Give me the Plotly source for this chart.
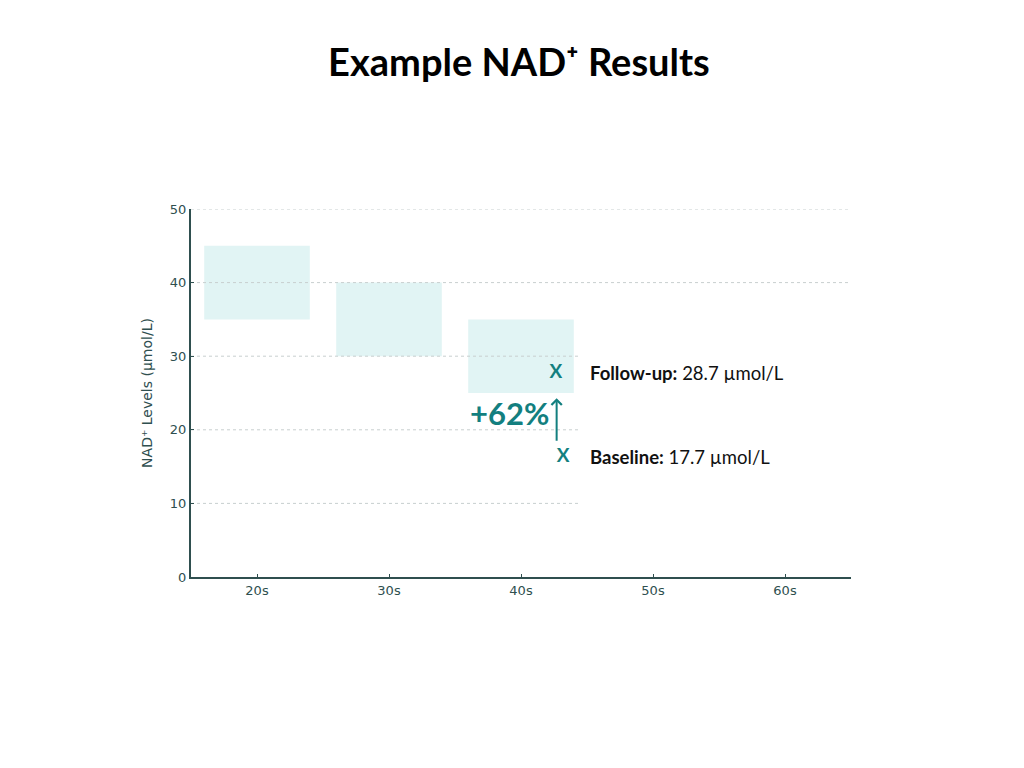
import plotly.graph_objects as go

# --- Data ---
decades = ["20s", "30s", "40s", "50s", "60s"]
range_low = [35, 30, 25]    # typical range per decade (lower edge)
range_high = [45, 40, 35]   # typical range per decade (upper edge)
baseline = 17.7
follow_up = 28.7
change_label = "+62%"
y_ticks = [0, 10, 20, 30, 40, 50]

teal = "#137F7F"
band = "#E1F4F4"
axis_col = "#2F4F4F"

fig = go.Figure()

# Reference ranges drawn as shaded boxes
for i, (lo, hi) in enumerate(zip(range_low, range_high)):
    fig.add_shape(type="rect", xref="x", yref="y",
                  x0=i - 0.4, x1=i + 0.4, y0=lo, y1=hi,
                  fillcolor=band, line_width=0, layer="below")

# Grid lines (lower ones stop at the 40s box)
for v in y_ticks[1:]:
    x_end = 2.44 if v <= 30 else 4.5
    fig.add_shape(type="line", xref="x", yref="y",
                  x0=-0.5, x1=x_end, y0=v, y1=v,
                  line=dict(color="#C8CFCF", width=1, dash="dot"), layer="below")

# Baseline / follow-up markers
fig.add_trace(go.Scatter(
    x=[2.265, 2.32], y=[follow_up - 1.0, baseline - 1.4],
    mode="text", text=["<b>X</b>", "<b>X</b>"],
    textfont=dict(family="Lato", size=19, color=teal),
    showlegend=False, hoverinfo="skip"))

# Arrow between the two readings
fig.add_annotation(x=2.27, y=24.3, ax=2.27, ay=18.3, xref="x", yref="y",
                   axref="x", ayref="y", text="", showarrow=True,
                   arrowhead=4, arrowsize=1, arrowwidth=2, arrowcolor=teal)

fig.add_annotation(x=2.23, y=22.3, xref="x", yref="y", text=f"<b>{change_label}</b>",
                   showarrow=False, xanchor="right",
                   font=dict(family="Lato", size=31, color=teal))

fig.add_annotation(x=2.51, y=follow_up - 1.0, xref="x", yref="y",
                   text=f"<b>Follow-up:</b> {follow_up} µmol/L",
                   showarrow=False, xanchor="left",
                   font=dict(family="Lato", size=18.5, color="#111111"))
fig.add_annotation(x=2.51, y=baseline - 1.4, xref="x", yref="y",
                   text=f"<b>Baseline:</b> {baseline} µmol/L",
                   showarrow=False, xanchor="left",
                   font=dict(family="Lato", size=18.5, color="#111111"))

fig.update_layout(
    width=1024, height=768,
    paper_bgcolor="white", plot_bgcolor="white",
    margin=dict(l=183, r=181, t=201, b=199),
    title=dict(text="<b>Example NAD⁺ Results</b>", x=0.499, xanchor="center",
               y=0.929, yanchor="middle",
               font=dict(family="Lato", size=38, color="black")),
    showlegend=False,
    xaxis=dict(range=[-0.5, 4.5], tickmode="array",
               tickvals=list(range(len(decades))), ticktext=decades,
               showgrid=False, zeroline=False, showline=True,
               linecolor=axis_col, linewidth=2, ticks="inside", ticklen=3,
               tickcolor=axis_col,
               tickfont=dict(family="DejaVu Sans", size=13, color=axis_col)),
    yaxis=dict(range=[0, 50], tickvals=y_ticks, showgrid=False, zeroline=False,
               showline=True, linecolor=axis_col, linewidth=2,
               ticks="inside", ticklen=3, tickcolor=axis_col,
               tickfont=dict(family="DejaVu Sans", size=13, color=axis_col),
               title=dict(text="NAD⁺ Levels (µmol/L)", standoff=14,
                          font=dict(family="DejaVu Sans", size=14, color=axis_col))),
)

fig.write_html("out.html")
